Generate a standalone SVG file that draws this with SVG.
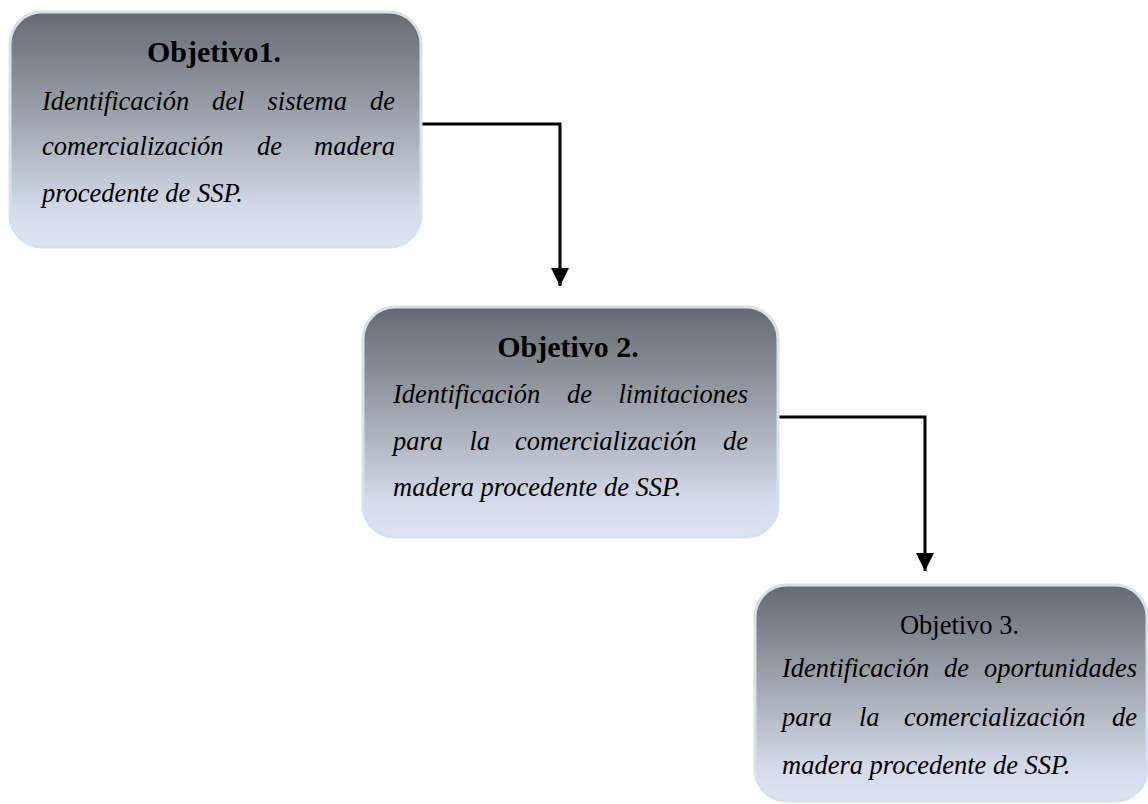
<svg xmlns="http://www.w3.org/2000/svg" width="1148" height="804" viewBox="0 0 1148 804">
<style>
.box{stroke:#d6e1ef;stroke-width:3}
.title{font-family:"Liberation Serif","Times New Roman",serif;font-size:30px;font-weight:bold;fill:#000;text-anchor:middle}
.title3{font-family:"Liberation Serif","Times New Roman",serif;font-size:26.5px;fill:#000;text-anchor:middle}
.body{font-family:"Liberation Serif","Times New Roman",serif;font-size:26.5px;font-style:italic;fill:#000}
.conn{fill:none;stroke:#000;stroke-width:3}
</style>
<defs>
<linearGradient id="g" x1="0" y1="0" x2="0" y2="1">
<stop offset="0" stop-color="#656a71"/>
<stop offset="0.45" stop-color="#9ea5ae"/>
<stop offset="0.85" stop-color="#d3dce8"/>
<stop offset="1" stop-color="#dce5f1"/>
</linearGradient>
<marker id="arr" markerUnits="userSpaceOnUse" markerWidth="18" markerHeight="18" refX="16" refY="8" orient="auto" viewBox="0 0 16 16">
<polygon points="0,0 16,8 0,16" fill="#000"/>
</marker>
</defs>
<rect width="1148" height="804" fill="#fff"/>
<g id="connectors">
<polyline class="conn" points="421,124 560,124 560,286" marker-end="url(#arr)"/>
<polyline class="conn" points="778,417 925,417 925,571" marker-end="url(#arr)"/>
</g>
<g id="obj1">
<rect class="box" x="10" y="12" width="411" height="235" rx="32" fill="url(#g)"/>
<text class="title" x="214" y="62">Objetivo1.</text>
<text class="body" y="110"><tspan x="42">Identificación</tspan><tspan x="212">del</tspan><tspan x="267.5">sistema</tspan><tspan x="395" text-anchor="end">de</tspan></text>
<text class="body" y="155"><tspan x="42">comercialización</tspan><tspan x="257">de</tspan><tspan x="395" text-anchor="end">madera</tspan></text>
<text class="body" x="42" y="202">procedente de SSP.</text>
</g>
<g id="obj2">
<rect class="box" x="363" y="307" width="415" height="230" rx="32" fill="url(#g)"/>
<text class="title" x="568" y="357">Objetivo 2.</text>
<text class="body" y="403"><tspan x="393">Identificación</tspan><tspan x="567">de</tspan><tspan x="748" text-anchor="end">limitaciones</tspan></text>
<text class="body" y="450"><tspan x="393">para</tspan><tspan x="469.5">la</tspan><tspan x="514.9">comercialización</tspan><tspan x="748" text-anchor="end">de</tspan></text>
<text class="body" x="393" y="496">madera procedente de SSP.</text>
</g>
<g id="obj3">
<rect class="box" x="755" y="585" width="392" height="216" rx="32" fill="url(#g)"/>
<text class="title3" x="959.5" y="634">Objetivo 3.</text>
<text class="body" y="677"><tspan x="782">Identificación</tspan><tspan x="944">de</tspan><tspan x="1137" text-anchor="end">oportunidades</tspan></text>
<text class="body" y="726"><tspan x="782">para</tspan><tspan x="859">la</tspan><tspan x="903.9">comercialización</tspan><tspan x="1137" text-anchor="end">de</tspan></text>
<text class="body" x="782" y="774">madera procedente de SSP.</text>
</g>
</svg>
